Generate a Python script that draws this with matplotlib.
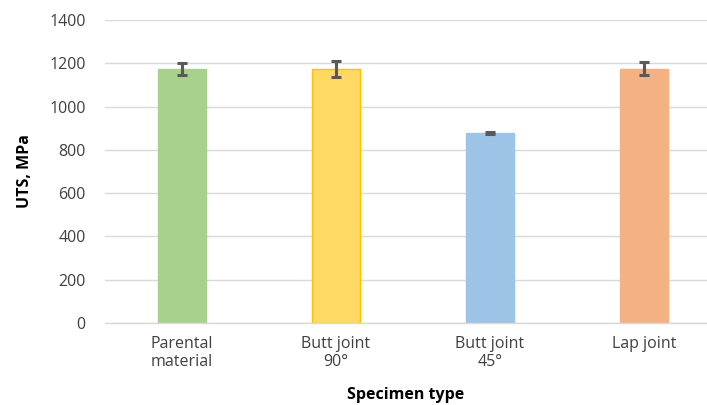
import matplotlib.pyplot as plt
import numpy as np

# Data
categories = ['Parental\nmaterial', 'Butt joint\n90°', 'Butt joint\n45°', 'Lap joint']
uts = [1175, 1174, 878, 1175]
uts_err = [27, 36, 5, 29]
fill_colors = ['#A9D18E', '#FFD966', '#9DC3E6', '#F4B183']
edge_colors = ['#A9D18E', '#FFC000', '#9DC3E6', '#F4B183']
y_ticks = [0, 200, 400, 600, 800, 1000, 1200, 1400]

plt.rcParams['font.family'] = ['Open Sans', 'DejaVu Sans']

fig = plt.figure(figsize=(7.07, 4.05), dpi=100)
ax = fig.add_axes([105 / 707, 82 / 405, 602 / 707, 303 / 405])

x = np.arange(len(categories))
ax.bar(x, uts, width=0.31, color=fill_colors, edgecolor=edge_colors,
       linewidth=1, zorder=2)
ax.errorbar(x, uts, yerr=uts_err, fmt='none', ecolor='#595959',
            elinewidth=2.2, capsize=3.5, capthick=2.2, zorder=3)

ax.set_ylim(0, 1400)
ax.set_xlim(-0.5, -0.5 + 602 / 154)
ax.set_yticks(y_ticks)
ax.set_xticks(x)
ax.set_xticklabels(categories, fontsize=11.5, color='#404040', linespacing=1.2)
ax.tick_params(axis='y', length=0, pad=14, labelsize=11.5, labelcolor='#404040')
ax.tick_params(axis='x', length=0, pad=9)

ax.yaxis.grid(True, color='#D9D9D9', linewidth=1, zorder=0)
ax.set_axisbelow(True)
for side in ['top', 'right', 'left']:
    ax.spines[side].set_visible(False)
ax.spines['bottom'].set_color('#D9D9D9')
ax.spines['bottom'].set_linewidth(1)

ax.set_ylabel('UTS, MPa', fontsize=11.5, fontweight='bold', color='black')
ax.yaxis.set_label_coords(-0.12, 0.5)
ax.set_xlabel('Specimen type', fontsize=11.5, fontweight='bold', color='black')
ax.xaxis.set_label_coords(0.5, -0.21)

fig.savefig('out.png', dpi=100)
